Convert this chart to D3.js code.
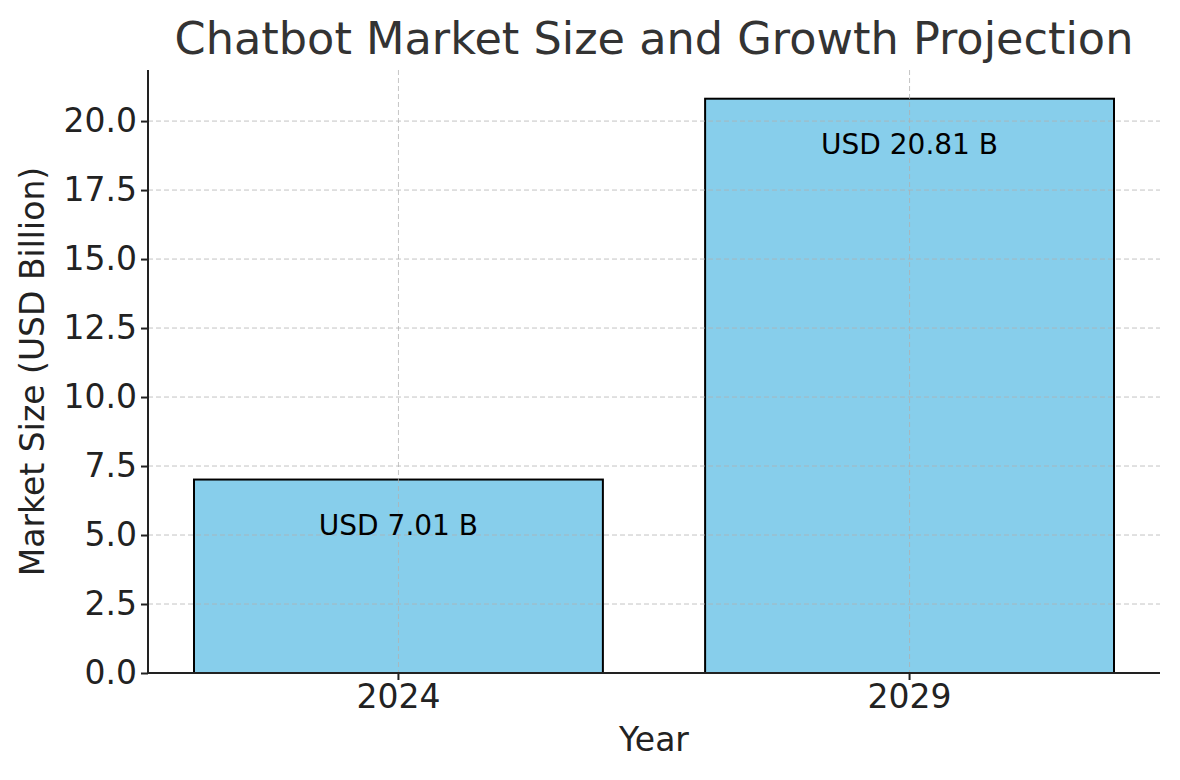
<!DOCTYPE html>
<html>
<head>
<meta charset="utf-8">
<script src="https://cdn.jsdelivr.net/npm/d3@7"></script>
<style>
  body { margin: 0; background: #fff; }
  svg { font-family: 'DejaVu Sans', sans-serif; }
</style>
</head>
<body>
<svg width="1180" height="780"></svg>
<script>
// Chart data
const years = ['2024', '2029'];
const marketSize = [7.01, 20.81];
const barLabels = ['USD 7.01 B', 'USD 20.81 B'];
const yTicks = [0, 2.5, 5, 7.5, 10, 12.5, 15, 17.5, 20];

const svg = d3.select('svg');
const plotLeft = 148;
const plotRight = 1160;
const plotTop = 70;
const plotBottom = 673;

// Scales
const xScale = d3.scaleBand()
  .domain(years)
  .range([plotLeft, plotRight])
  .paddingInner(0.2)
  .paddingOuter(0.09);

const yScale = d3.scaleLinear()
  .domain([0, d3.max(marketSize) * 1.05])
  .range([plotBottom, plotTop]);

// Bars
svg.selectAll('.bar')
  .data(years)
  .enter()
  .append('rect')
  .attr('class', 'bar')
  .attr('x', (d) => xScale(d))
  .attr('y', (d, i) => yScale(marketSize[i]))
  .attr('width', xScale.bandwidth())
  .attr('height', (d, i) => plotBottom - yScale(marketSize[i]))
  .attr('fill', '#87ceeb')
  .attr('stroke', '#000')
  .attr('stroke-width', 2);

// Grid (drawn over bars, like the original)
const grid = svg.append('g')
  .attr('stroke', '#b0b0b0')
  .attr('stroke-opacity', 0.75)
  .attr('stroke-width', 1)
  .attr('stroke-dasharray', '5,3');

grid.selectAll('.hgrid')
  .data(yTicks)
  .enter()
  .append('line')
  .attr('x1', plotLeft)
  .attr('x2', plotRight)
  .attr('y1', (d) => yScale(d))
  .attr('y2', (d) => yScale(d));

grid.selectAll('.vgrid')
  .data(years)
  .enter()
  .append('line')
  .attr('x1', (d) => xScale(d) + xScale.bandwidth() / 2)
  .attr('x2', (d) => xScale(d) + xScale.bandwidth() / 2)
  .attr('y1', plotTop)
  .attr('y2', plotBottom);

// Value labels inside bars
svg.selectAll('.value')
  .data(years)
  .enter()
  .append('text')
  .attr('x', (d) => xScale(d) + xScale.bandwidth() / 2)
  .attr('y', (d, i) => yScale(marketSize[i] - 2))
  .attr('text-anchor', 'middle')
  .style('font-size', '28px')
  .attr('fill', '#000')
  .text((d, i) => barLabels[i]);

// Axes
const xAxis = d3.axisBottom(xScale).tickSize(7).tickPadding(5);
const yAxis = d3.axisLeft(yScale)
  .tickValues(yTicks)
  .tickFormat(d3.format('.1f'))
  .tickSize(7)
  .tickPadding(4);

const gx = svg.append('g')
  .attr('transform', `translate(0, ${plotBottom})`)
  .call(xAxis);

const gy = svg.append('g')
  .attr('transform', `translate(${plotLeft}, 0)`)
  .call(yAxis);

[gx, gy].forEach((g) => {
  g.select('.domain').attr('stroke', '#222').attr('stroke-width', 2);
  g.selectAll('.tick line').attr('stroke', '#222').attr('stroke-width', 2);
  g.selectAll('.tick text')
    .attr('fill', '#222')
    .style('font-size', '33px')
    .style('font-family', "'DejaVu Sans', sans-serif");
});
gx.select('.domain').attr('d', `M${plotLeft},0H${plotRight}`);
gy.select('.domain').attr('d', `M0,${plotBottom}V${plotTop}`);

// Axis labels
svg.append('text')
  .attr('x', (plotLeft + plotRight) / 2)
  .attr('y', 751)
  .attr('text-anchor', 'middle')
  .attr('fill', '#222')
  .style('font-size', '33px')
  .text('Year');

svg.append('text')
  .attr('transform', 'rotate(-90)')
  .attr('x', -(plotTop + plotBottom) / 2)
  .attr('y', 44)
  .attr('text-anchor', 'middle')
  .attr('fill', '#222')
  .style('font-size', '33px')
  .text('Market Size (USD Billion)');

// Title
svg.append('text')
  .attr('x', (plotLeft + plotRight) / 2)
  .attr('y', 54)
  .attr('text-anchor', 'middle')
  .attr('fill', '#333')
  .style('font-size', '44.6px')
  .text('Chatbot Market Size and Growth Projection');
</script>
</body>
</html>
